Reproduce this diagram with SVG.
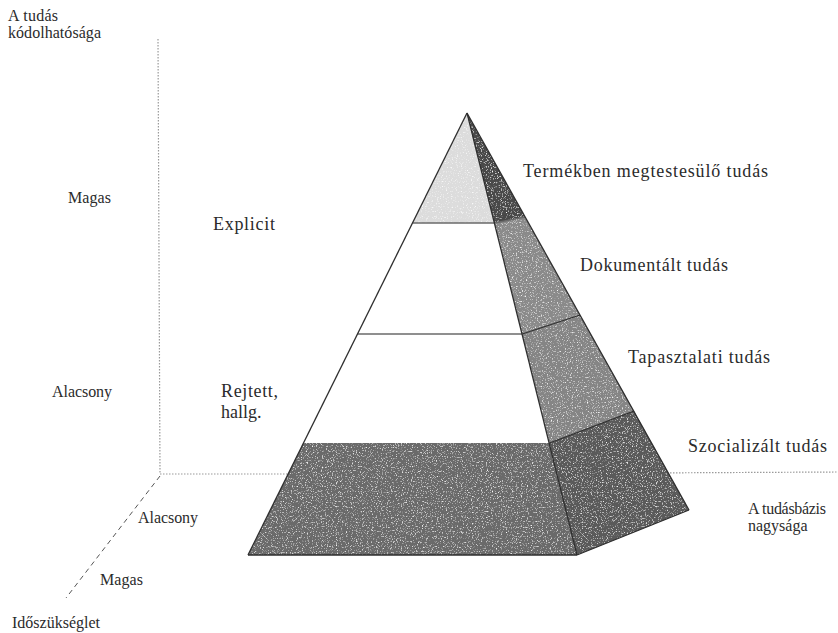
<svg xmlns="http://www.w3.org/2000/svg" width="838" height="633" viewBox="0 0 838 633">
<defs>
<style>
.t{font-family:"Liberation Serif","Times New Roman",serif;fill:#2b2b2b;font-size:16px}
.lbl{font-size:18px}
.ax{fill:none;stroke:#9a9a9a;stroke-width:1.2;stroke-dasharray:1.5 1.5}
.dg{fill:none;stroke:#555;stroke-width:1;stroke-dasharray:5 4}
.edge{stroke:#2e2e2e;stroke-width:1.3;stroke-linejoin:round}
.band{stroke:#6a6a6a;stroke-width:1.4;fill:none}
</style>
<filter id="grain" x="0" y="0" width="1" height="1">
<feTurbulence type="fractalNoise" baseFrequency="0.8" numOctaves="2" seed="3" result="n"/>
<feColorMatrix in="n" type="matrix" values="0 0 0 0 1  0 0 0 0 1  0 0 0 0 1  0 0 0 3 -1.7" result="w"/>
<feComposite in="w" in2="SourceGraphic" operator="in" result="wm"/>
<feMerge><feMergeNode in="SourceGraphic"/><feMergeNode in="wm"/></feMerge>
</filter>
</defs>
<rect width="838" height="633" fill="#fff"/>

<g id="axes">
<line class="ax" x1="158" y1="39" x2="160" y2="474"/>
<line class="ax" x1="160" y1="474" x2="300" y2="474"/>
<line class="ax" x1="640" y1="473" x2="838" y2="472"/>
<line class="dg" x1="160" y1="476" x2="66" y2="598"/>
</g>

<g id="pyramid">
<g id="layer-termekben">
<polygon points="467,113 412.5,223 494.5,223" fill="#dcdcdc" filter="url(#grain)"/>
<polygon points="467,113 494.5,223 525,217" fill="#4a4a4a" filter="url(#grain)"/>
</g>
<g id="layer-dokumentalt">
<polygon points="412.5,223 494.5,223 522.25,334 357.5,334" fill="#ffffff"/>
<polygon points="494.5,223 525,217 580,315 522.25,334" fill="#8a8a8a" filter="url(#grain)"/>
</g>
<g id="layer-tapasztalati">
<polygon points="357.5,334 522.25,334 549.5,443 303.5,443" fill="#ffffff"/>
<polygon points="522.25,334 580,315 634,411 549.5,443" fill="#858585" filter="url(#grain)"/>
</g>
<g id="layer-szocializalt">
<polygon points="303.5,443 549.5,443 577,555 248,555" fill="#6a6a6a" filter="url(#grain)"/>
<polygon points="549.5,443 634,411 689,510 577,555" fill="#5a5a5a" filter="url(#grain)"/>
</g>
<g id="outline">
<line class="band" x1="412.5" y1="223" x2="494.5" y2="223"/>
<line class="band" x1="357.5" y1="334" x2="522.25" y2="334"/>
<line class="band" x1="494.5" y1="223" x2="525" y2="217"/>
<line class="edge" x1="522.25" y1="334" x2="580" y2="315"/>
<line class="edge" x1="549.5" y1="443" x2="634" y2="411"/>
<line class="edge" x1="467" y1="113" x2="248" y2="555"/>
<line class="edge" x1="467" y1="113" x2="577" y2="555"/>
<line class="edge" x1="467" y1="113" x2="689" y2="510"/>
<line class="edge" x1="248" y1="555" x2="577" y2="555"/>
<line class="edge" x1="577" y1="555" x2="689" y2="510"/>
</g>
</g>

<g id="labels">
<text class="t" x="8" y="21" textLength="50" lengthAdjust="spacing">A tudás</text>
<text class="t" x="8" y="38" textLength="93" lengthAdjust="spacing">kódolhatósága</text>
<text class="t" x="68" y="203" textLength="43" lengthAdjust="spacing">Magas</text>
<text class="t" x="52" y="397" textLength="60" lengthAdjust="spacing">Alacsony</text>
<text class="t lbl" x="213" y="230" textLength="62" lengthAdjust="spacing">Explicit</text>
<text class="t lbl" x="221" y="397" textLength="57" lengthAdjust="spacing">Rejtett,</text>
<text class="t lbl" x="221" y="418">hallg.</text>
<text class="t lbl" x="523" y="177" textLength="245" lengthAdjust="spacing">Termékben megtestesülő tudás</text>
<text class="t lbl" x="580" y="271" textLength="148" lengthAdjust="spacing">Dokumentált tudás</text>
<text class="t lbl" x="628" y="363" textLength="142" lengthAdjust="spacing">Tapasztalati tudás</text>
<text class="t lbl" x="688" y="452" textLength="139" lengthAdjust="spacing">Szocializált tudás</text>
<text class="t" x="748" y="514" textLength="78" lengthAdjust="spacing">A tudásbázis</text>
<text class="t" x="748" y="531">nagysága</text>
<text class="t" x="138" y="523" textLength="60" lengthAdjust="spacing">Alacsony</text>
<text class="t" x="100" y="585" textLength="43" lengthAdjust="spacing">Magas</text>
<text class="t" x="12" y="628" textLength="88" lengthAdjust="spacing">Időszükséglet</text>
</g>
</svg>
